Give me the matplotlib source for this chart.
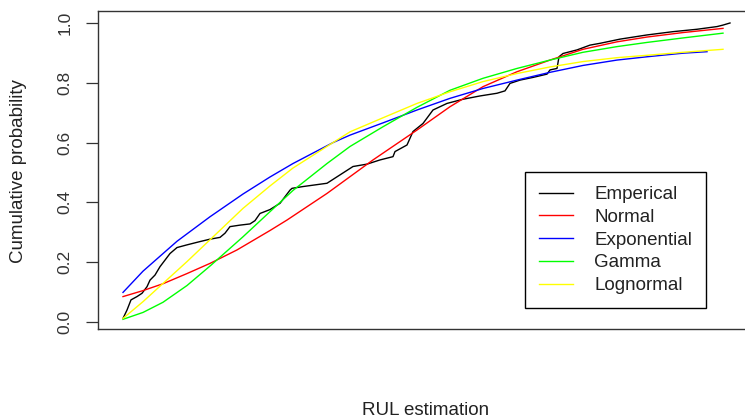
import matplotlib
matplotlib.use("Agg")
import matplotlib.pyplot as plt

plt.rcParams['font.family'] = ['Liberation Sans', 'DejaVu Sans']

# empirical cdf of the RUL estimates (x in arbitrary RUL units)
emp_x = [0, 4, 8, 14, 19, 24, 27, 32, 37, 42, 47, 54, 64, 77, 87, 97, 102, 107, 117, 127,
         132, 137, 147, 157, 167, 169, 180, 204, 217, 230, 244, 257, 270, 272, 284, 290, 300,
         310, 324, 340, 357, 374, 382, 387, 397, 410, 424, 427, 434, 436, 440, 454, 467, 477,
         497, 524, 550, 574, 594, 600, 607]
emp_y = [0.012, 0.040, 0.074, 0.085, 0.096, 0.118, 0.140, 0.157, 0.185, 0.207, 0.229, 0.249,
         0.258, 0.269, 0.277, 0.283, 0.297, 0.319, 0.324, 0.328, 0.339, 0.363, 0.376, 0.397,
         0.441, 0.447, 0.453, 0.464, 0.492, 0.520, 0.528, 0.542, 0.553, 0.570, 0.592, 0.637,
         0.664, 0.709, 0.731, 0.745, 0.756, 0.765, 0.773, 0.798, 0.809, 0.818, 0.829, 0.843,
         0.848, 0.887, 0.898, 0.910, 0.926, 0.932, 0.946, 0.960, 0.971, 0.979, 0.988, 0.993,
         1.000]

norm_x = [0, 20, 40, 64, 87, 114, 147, 164, 204, 250, 294, 327, 360, 394, 427, 460, 494, 524, 560, 600]
norm_y = [0.085, 0.105, 0.128, 0.162, 0.196, 0.241, 0.306, 0.341, 0.430, 0.542, 0.642, 0.720,
          0.787, 0.837, 0.876, 0.912, 0.937, 0.953, 0.968, 0.982]

exp_x = [0, 20, 54, 87, 120, 147, 170, 210, 227, 260, 294, 327, 360, 394, 427, 460, 494, 524, 560, 584]
exp_y = [0.099, 0.170, 0.270, 0.352, 0.428, 0.485, 0.530, 0.600, 0.625, 0.666, 0.709, 0.748,
         0.781, 0.809, 0.835, 0.858, 0.876, 0.887, 0.899, 0.904]

gam_x = [0, 20, 40, 64, 88, 120, 147, 170, 204, 227, 260, 294, 327, 360, 394, 427, 460, 494, 524, 560, 600]
gam_y = [0.009, 0.032, 0.066, 0.122, 0.190, 0.285, 0.369, 0.440, 0.530, 0.587, 0.653, 0.718,
         0.775, 0.815, 0.848, 0.876, 0.902, 0.921, 0.935, 0.950, 0.966]

logn_x = [0, 20, 40, 64, 87, 120, 147, 170, 210, 227, 260, 294, 327, 360, 394, 427, 460, 494, 524, 560, 600]
logn_y = [0.012, 0.068, 0.129, 0.202, 0.275, 0.380, 0.455, 0.515, 0.600, 0.636, 0.683, 0.731,
          0.770, 0.804, 0.831, 0.853, 0.871, 0.884, 0.892, 0.902, 0.912]

labels = ["Emperical", "Normal", "Exponential", "Gamma", "Lognormal"]
colors = ["black", "#FF0000", "#0000FF", "#00FF00", "#FFFF00"]
yticks = [0.0, 0.2, 0.4, 0.6, 0.8, 1.0]

fig = plt.figure(figsize=(7.45, 4.19), dpi=100)
ax = fig.add_axes([98 / 745, 90 / 419, 657 / 745, 318 / 419])

series = [(emp_x, emp_y), (norm_x, norm_y), (exp_x, exp_y), (gam_x, gam_y), (logn_x, logn_y)]
for (xs, ys), lab, col in zip(series, labels, colors):
    ax.plot(xs, ys, color=col, lw=1.0, label=lab)

ax.set_xlim(-25, 632)
ax.set_ylim(-0.0234, 1.0401)
ax.set_xticks([])
ax.set_yticks(yticks)
ax.set_yticklabels(["%.1f" % v for v in yticks], fontsize=12.5)
plt.setp(ax.get_yticklabels(), rotation=90, va="center")
ax.tick_params(axis="y", length=8.5, width=0.9, pad=10, colors="#333333")
for sp in ax.spines.values():
    sp.set_color("#333333")
    sp.set_linewidth(1.0)

fig.text(19 / 745, 1 - 171 / 419, "Cumulative probability", rotation=90,
         ha="center", va="center", fontsize=13.5, color="#222222")
fig.text(426 / 745, 1 - 410 / 419, "RUL estimation", ha="center", va="center",
         fontsize=13.5, color="#222222")

leg = ax.legend(loc="upper left", bbox_to_anchor=((525 - 98) / 657, (329 - 172) / 318),
                borderaxespad=0, fontsize=13.5, frameon=True, fancybox=False,
                edgecolor="black", framealpha=1, labelspacing=0.3, handlelength=1.8,
                handletextpad=1.15, borderpad=0.75)
leg.get_frame().set_linewidth(1.0)
for t in leg.get_texts():
    t.set_color("#222222")

fig.savefig("out.png", dpi=100)
